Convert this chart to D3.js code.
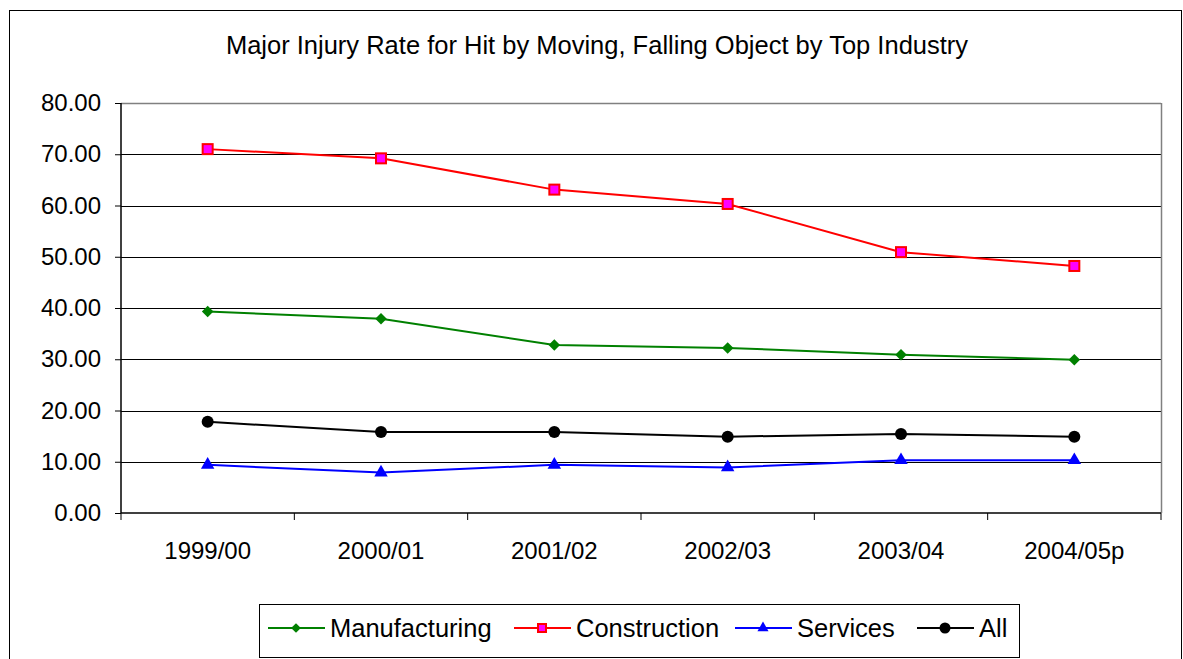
<!DOCTYPE html>
<html>
<head>
<meta charset="utf-8">
<script src="https://cdn.jsdelivr.net/npm/d3@7"></script>
<style>
  body { margin: 0; background: #fff; }
  text { font-family: "Liberation Sans", Arial, sans-serif; fill: #000; }
</style>
</head>
<body>
<script>
const years = ["1999/00", "2000/01", "2001/02", "2002/03", "2003/04", "2004/05p"];
const manufacturing = [39.3, 37.9, 32.8, 32.2, 30.9, 29.9];
const construction = [71.0, 69.2, 63.1, 60.3, 50.9, 48.2];
const services = [9.4, 7.9, 9.4, 8.9, 10.3, 10.3];
const all = [17.8, 15.8, 15.8, 14.9, 15.4, 14.9];
const yTicks = [0, 10, 20, 30, 40, 50, 60, 70, 80];

const series = [
  { name: "Manufacturing", values: manufacturing, color: "#008000", marker: "diamond" },
  { name: "Construction", values: construction, color: "#ff0000", marker: "square" },
  { name: "Services", values: services, color: "#0000ff", marker: "triangle" },
  { name: "All", values: all, color: "#000000", marker: "circle" }
];

const w = 1183;
const h = 659;
const plot = { left: 121, right: 1161, top: 103, bottom: 513 };

const svg = d3.select("body").append("svg")
  .attr("width", w)
  .attr("height", h);

// chart frame
svg.append("rect")
  .attr("x", 9.5).attr("y", 10.5)
  .attr("width", 1172).attr("height", 660)
  .attr("fill", "#fff")
  .attr("stroke", "#000")
  .attr("stroke-width", 1);

svg.append("text")
  .attr("x", 597).attr("y", 54)
  .attr("text-anchor", "middle")
  .attr("font-size", 25.5)
  .text("Major Injury Rate for Hit by Moving, Falling Object by Top Industry");

const x = d3.scaleBand().domain(years).range([plot.left, plot.right]);
const y = d3.scaleLinear().domain([0, 80]).range([plot.bottom, plot.top]);

// gridlines
svg.append("g")
  .selectAll("line")
  .data(yTicks.filter(d => d > 0))
  .join("line")
  .attr("x1", plot.left).attr("x2", plot.right)
  .attr("y1", d => Math.round(y(d)) + 0.5).attr("y2", d => Math.round(y(d)) + 0.5)
  .attr("stroke", d => d === 80 ? "#808080" : "#000")
  .attr("stroke-width", d => d === 80 ? 1.5 : 1);

// right border of plot area
svg.append("line")
  .attr("x1", plot.right + 0.5).attr("x2", plot.right + 0.5)
  .attr("y1", plot.top).attr("y2", plot.bottom)
  .attr("stroke", "#808080").attr("stroke-width", 1.5);

// y axis
const yAxis = d3.axisLeft(y)
  .tickValues(yTicks)
  .tickFormat(d3.format(".2f"))
  .tickSize(6)
  .tickPadding(14);
const gy = svg.append("g")
  .attr("transform", `translate(${plot.left},0)`)
  .call(yAxis);
gy.select(".domain").attr("stroke", "#000").attr("stroke-width", 1.5).attr("d", `M0,${plot.top}V${plot.bottom}`);
gy.selectAll("text").attr("font-size", 24).attr("font-family", "Liberation Sans, Arial, sans-serif");

// x axis
const gx = svg.append("g")
  .attr("transform", `translate(0,${plot.bottom})`);
gx.append("line")
  .attr("x1", plot.left).attr("x2", plot.right)
  .attr("stroke", "#000").attr("stroke-width", 1.5);
gx.selectAll(".tk")
  .data(years.concat(["end"]))
  .join("line")
  .attr("class", "tk")
  .attr("x1", (d, i) => i < years.length ? x(d) : plot.right)
  .attr("x2", (d, i) => i < years.length ? x(d) : plot.right)
  .attr("y1", 0).attr("y2", 7)
  .attr("stroke", "#000").attr("stroke-width", 1);
gx.selectAll(".lbl")
  .data(years)
  .join("text")
  .attr("class", "lbl")
  .attr("x", d => x(d) + x.bandwidth() / 2)
  .attr("y", 46)
  .attr("text-anchor", "middle")
  .attr("font-size", 24)
  .text(d => d);

const cx = (d, i) => x(years[i]) + x.bandwidth() / 2;
const line = d3.line().x((d, i) => cx(d, i)).y(d => y(d));

function drawMarker(g, type, color, size) {
  if (type === "diamond") {
    g.append("path").attr("d", d3.symbol(d3.symbolDiamond2, size * size * 0.5)()).attr("fill", color);
  } else if (type === "square") {
    g.append("rect").attr("x", -size / 2).attr("y", -size / 2)
      .attr("width", size).attr("height", size)
      .attr("fill", "#ff00ff").attr("stroke", color).attr("stroke-width", 2);
  } else if (type === "triangle") {
    g.append("path").attr("d", d3.symbol(d3.symbolTriangle2, size * size * 0.45)()).attr("fill", color);
  } else {
    g.append("circle").attr("r", size / 2).attr("fill", color);
  }
}

const markerSize = { diamond: 13, square: 10, triangle: 17, circle: 12 };

series.forEach(s => {
  svg.append("path")
    .datum(s.values)
    .attr("d", line)
    .attr("fill", "none")
    .attr("stroke", s.color)
    .attr("stroke-width", 2);
  s.values.forEach((v, i) => {
    const g = svg.append("g").attr("transform", `translate(${cx(v, i)},${y(v)})`);
    drawMarker(g, s.marker, s.color, markerSize[s.marker]);
  });
});

// legend
const legend = svg.append("g");
legend.append("rect")
  .attr("x", 259.5).attr("y", 604.5)
  .attr("width", 760).attr("height", 53)
  .attr("fill", "#fff").attr("stroke", "#000");

const legendX = [268, 514, 735, 917];
series.forEach((s, i) => {
  const g = legend.append("g").attr("transform", `translate(${legendX[i]},628)`);
  g.append("line").attr("x1", 0).attr("x2", 57).attr("stroke", s.color).attr("stroke-width", 2);
  const m = g.append("g").attr("transform", "translate(28,0)");
  drawMarker(m, s.marker, s.color, s.marker === "square" ? 8 : (s.marker === "triangle" ? 14 : 11));
  g.append("text")
    .attr("x", 62).attr("y", 9)
    .attr("font-size", 25.5)
    .text(s.name);
});
</script>
</body>
</html>
